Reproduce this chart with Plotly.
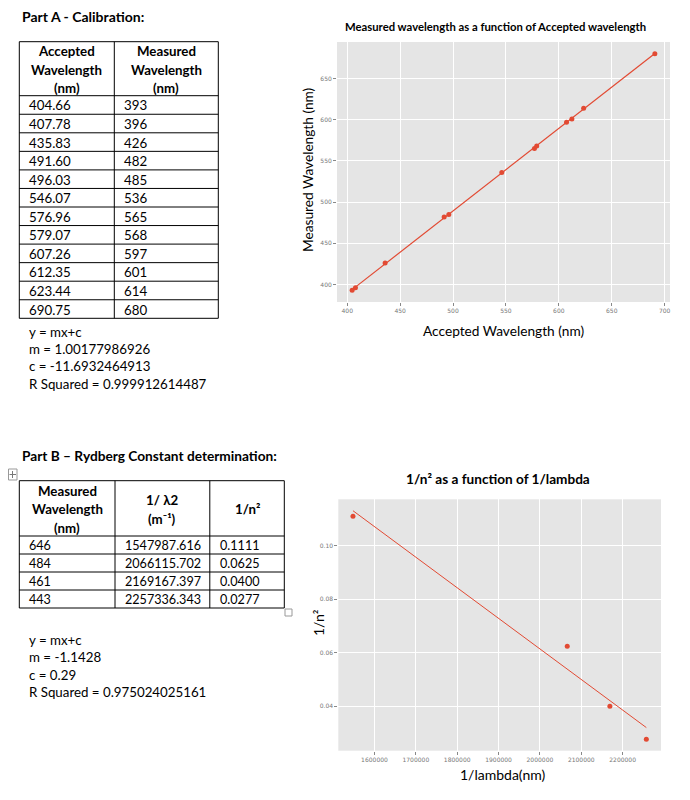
import numpy as np
import plotly.graph_objects as go

# page body has an 8px margin, so the figure is sized to fit the 690x800 window
OFF = 8
W, H = 690 - 2 * OFF, 800 - 2 * OFF
def px(x): return (x - OFF) / W
def py(y): return 1 - (y - OFF) / H

# ---------------- data ----------------
accepted_nm = [404.66, 407.78, 435.83, 491.60, 496.03, 546.07, 576.96, 579.07, 607.26, 612.35, 623.44, 690.75]
measured_nm = [393, 396, 426, 482, 485, 536, 565, 568, 597, 601, 614, 680]

partb_measured_nm = [646, 484, 461, 443]
partb_inv_lambda = [1547987.616, 2066115.702, 2169167.397, 2257336.343]
partb_inv_n2 = [0.1111, 0.0625, 0.0400, 0.0277]

table1_headers = [["Accepted", "Wavelength", "(nm)"], ["Measured", "Wavelength", "(nm)"]]
table2_headers = [["Measured", "Wavelength", "(nm)"], ["1/ λ2", "(m⁻¹)"], ["1/n²"]]

parta_fit_text = ["y = mx+c", "m = 1.00177986926", "c = -11.6932464913", "R Squared = 0.999912614487"]
partb_fit_text = ["y = mx+c", "m = -1.1428", "c = 0.29", "R Squared = 0.975024025161"]

chart1_xticks = [400, 450, 500, 550, 600, 650, 700]
chart1_yticks = [400, 450, 500, 550, 600, 650]
chart2_xticks = [1600000, 1700000, 1800000, 1900000, 2000000, 2100000, 2200000]
chart2_yticks = [0.04, 0.06, 0.08, 0.10]

RED = "#E24A33"
FONT = "Lato"

fig = go.Figure()
ann = []
shapes = []

def text(x, y, s, size=13.3, bold=False, xanchor="left", angle=0):
    ann.append(dict(x=px(x), y=py(y), xref="paper", yref="paper", text=(f"<b>{s}</b>" if bold else s),
                    showarrow=False, xanchor=xanchor, yanchor="middle", textangle=angle,
                    font=dict(family=FONT, size=size, color="black")))

def hline(x0, x1, y, color="black"):
    shapes.append(dict(type="line", xref="paper", yref="paper", x0=px(x0), x1=px(x1), y0=py(y), y1=py(y),
                       line=dict(color=color, width=1)))

def vline(x, y0, y1, color="black"):
    shapes.append(dict(type="line", xref="paper", yref="paper", x0=px(x), x1=px(x), y0=py(y0), y1=py(y1),
                       line=dict(color=color, width=1)))

def draw_table(x0, y0, colw, header_h, row_h, headers, columns, font_size, line_gap=18.3):
    nrows = len(columns[0])
    xs = [x0]
    for w in colw:
        xs.append(xs[-1] + w)
    y_bottom = y0 + header_h + nrows * row_h
    # grid
    hline(xs[0], xs[-1], y0)
    hline(xs[0], xs[-1], y0 + header_h)
    for r in range(1, nrows + 1):
        hline(xs[0], xs[-1], y0 + header_h + r * row_h)
    for xv in xs:
        vline(xv, y0, y_bottom)
    # header text
    hc = y0 + header_h / 2 + 1
    for c, lines in enumerate(headers):
        cx = (xs[c] + xs[c + 1]) / 2
        n = len(lines)
        for i, s in enumerate(lines):
            text(cx, hc + (i - (n - 1) / 2) * line_gap, s, size=13.3, bold=True, xanchor="center")
    # cells
    for c, col in enumerate(columns):
        for r, s in enumerate(col):
            text(xs[c] + 8, y0 + header_h + (r + 0.5) * row_h + 0.5, s, size=font_size)

draw_table(19.3, 41.7, [95, 104], 54, 18.55, table1_headers,
           [[f"{v:.2f}" for v in accepted_nm], [str(v) for v in measured_nm]], 13.3)
draw_table(19.3, 480.7, [95.7, 94.8, 74.5], 55.3, 18, table2_headers,
           [[str(v) for v in partb_measured_nm],
            [f"{v:.3f}" for v in partb_inv_lambda],
            [f"{v:.4f}" for v in partb_inv_n2]], 12.6)

# ---------------- chart 1 ----------------
m1, c1 = np.polyfit(accepted_nm, measured_nm, 1)
xs1 = np.array([min(accepted_nm), max(accepted_nm)])
fig.add_trace(go.Scatter(x=xs1, y=m1 * xs1 + c1, mode="lines",
                         line=dict(color=RED, width=1.2), xaxis="x", yaxis="y", showlegend=False))
fig.add_trace(go.Scatter(x=accepted_nm, y=measured_nm, mode="markers",
                         marker=dict(color=RED, size=5), xaxis="x", yaxis="y", showlegend=False))

# ---------------- chart 2 ----------------
m2, c2 = np.polyfit(partb_inv_lambda, partb_inv_n2, 1)
xs2 = np.array([min(partb_inv_lambda), max(partb_inv_lambda)])
fig.add_trace(go.Scatter(x=xs2, y=m2 * xs2 + c2, mode="lines",
                         line=dict(color=RED, width=1), xaxis="x2", yaxis="y2", showlegend=False))
fig.add_trace(go.Scatter(x=partb_inv_lambda, y=partb_inv_n2, mode="markers",
                         marker=dict(color=RED, size=5), xaxis="x2", yaxis="y2", showlegend=False))

def pad(lo, hi, f=0.05):
    s = hi - lo
    return [lo - f * s, hi + f * s]

axis_common = dict(showgrid=True, gridcolor="white", gridwidth=1, zeroline=False,
                   ticks="outside", ticklen=3, tickcolor="#888", tickwidth=1,
                   tickfont=dict(family="DejaVu Sans", size=6, color="#777"),
                   showline=False)

y2lo = min(min(partb_inv_n2), float(min(m2 * xs2 + c2)))
y2hi = max(max(partb_inv_n2), float(max(m2 * xs2 + c2)))

fig.update_layout(
    width=W, height=H, margin=dict(l=0, r=0, t=0, b=0),
    paper_bgcolor="white", plot_bgcolor="#E5E5E5",
    font=dict(family=FONT, color="black"),
    xaxis=dict(domain=[px(337), px(670)], anchor="y", range=pad(min(accepted_nm), max(accepted_nm)),
               tickvals=chart1_xticks, **axis_common),
    yaxis=dict(domain=[py(302), py(42)], anchor="x", range=pad(min(measured_nm), max(measured_nm)),
               tickvals=chart1_yticks, **axis_common),
    xaxis2=dict(domain=[px(338.3), px(661)], anchor="y2", range=pad(min(partb_inv_lambda), max(partb_inv_lambda)),
                tickvals=chart2_xticks, tickformat="d", **axis_common),
    yaxis2=dict(domain=[py(750.7), py(499.3)], anchor="x2", range=pad(y2lo, y2hi),
                tickvals=chart2_yticks, tickformat=".2f", **axis_common),
)

text(20, 16, "Part A - Calibration:", size=14, bold=True)
text(20, 455, "Part B – Rydberg Constant determination:", size=13.7, bold=True)
for i, s in enumerate(parta_fit_text):
    text(26.5, 331.5 + i * 17.5, s)
for i, s in enumerate(partb_fit_text):
    text(26.5, 640 + i * 17.3, s)

# chart 1 titles
text(495, 26.5, "Measured wavelength as a function of Accepted wavelength", size=11.3, bold=True, xanchor="center")
text(503, 330, "Accepted Wavelength (nm)", size=13.7, xanchor="center")
text(308, 170, "Measured Wavelength (nm)", size=13.7, xanchor="center", angle=-90)
# chart 2 titles
text(498, 479, "1/n² as a function of 1/lambda", size=13.6, bold=True, xanchor="center")
text(503, 774, "1/lambda(nm)", size=14, xanchor="center")
text(318, 623, "1/n²", size=14, xanchor="center", angle=-90)

# Word table handles (decoration)
shapes += [
    dict(type="rect", xref="paper", yref="paper", x0=px(8.5), x1=px(17), y0=py(480), y1=py(469),
         line=dict(color="#999", width=1), fillcolor="white"),
    dict(type="line", xref="paper", yref="paper", x0=px(9.5), x1=px(16), y0=py(474.5), y1=py(474.5),
         line=dict(color="#777", width=1)),
    dict(type="line", xref="paper", yref="paper", x0=px(12.5), x1=px(12.5), y0=py(478), y1=py(471),
         line=dict(color="#777", width=1)),
    dict(type="rect", xref="paper", yref="paper", x0=px(285), x1=px(292), y0=py(616), y1=py(609),
         line=dict(color="#999", width=1), fillcolor="white"),
]

fig.update_layout(annotations=ann, shapes=shapes)

fig.write_html("out.html")
